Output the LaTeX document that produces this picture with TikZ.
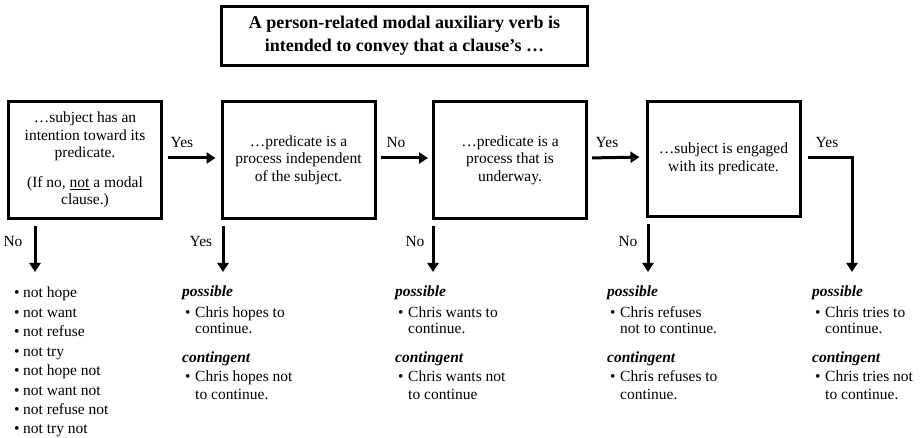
\documentclass[tikz,border=0pt]{standalone}
\usepackage{fontspec}
\setmainfont{Liberation Serif}
\usetikzlibrary{arrows.meta}
\begin{document}
\begin{tikzpicture}[x=1pt,y=-1pt,
  boxnode/.style={draw, line width=3pt, minimum width=153pt, minimum height=117pt, align=center, inner sep=0pt, font=\fontsize{15.5}{17.5}\selectfont},
  arr/.style={line width=3pt, -{Triangle[length=9pt,width=11pt]}},
  lbl/.style={font=\fontsize{15.5}{17.5}\selectfont, inner sep=0pt, anchor=base},
  txt/.style={font=\fontsize{15.5}{17.5}\selectfont, inner sep=0pt, anchor=base west},
  hd/.style={font=\fontsize{15.5}{17.5}\selectfont\bfseries\itshape, inner sep=0pt, anchor=base west}]
\useasboundingbox (0,0) rectangle (921,438);

% title
\node[draw, line width=3pt, minimum width=366pt, minimum height=59pt, align=center, inner sep=0pt,
  font=\fontsize{18}{23}\selectfont\bfseries] (title) at (404.5,36)
  {A person-related modal auxiliary verb is\\intended to convey that a clause’s …};

% boxes
\node[boxnode] (b1) at (85,160) {…subject has an\\intention toward its\\predicate.\\[12pt](If no, \underline{not} a modal\\clause.)};
\node[boxnode] (b2) at (298.5,160) {…predicate is a\\process independent\\of the subject.};
\node[boxnode] (b3) at (510,160) {…predicate is a\\process that is\\underway.};
\node[boxnode, minimum height=115pt] (b4) at (723.5,159) {…subject is engaged\\with its predicate.};

% horizontal arrows
\draw[arr, shorten <=5pt, shorten >=5pt] ([yshift=2pt]b1.east) -- ([yshift=2pt]b2.west);
\draw[arr, shorten <=4pt, shorten >=4pt] ([yshift=2pt]b2.east) -- ([yshift=2pt]b3.west);
\draw[arr, shorten <=4pt, shorten >=6pt] ([yshift=2pt]b3.east) -- ([yshift=2pt]b4.west);
\coordinate (d5) at (852,272);
\draw[arr, shorten <=6pt] ([yshift=1pt]b4.east) -| (d5);

\node[lbl] (y1) at (182,148) {Yes};
\node[lbl] (n2) at (396,148) {No};
\node[lbl] (y3) at (607,148) {Yes};
\node[lbl] (y4) at (827,148) {Yes};

% down arrows
\coordinate (d1) at (35,272);
\coordinate (d2) at (223,272);
\coordinate (d3) at (433,272);
\coordinate (d4) at (648,272);
\draw[arr, shorten <=6pt] (b1.south -| d1) -- (d1);
\draw[arr, shorten <=6pt] (b2.south -| d2) -- (d2);
\draw[arr, shorten <=6pt] (b3.south -| d3) -- (d3);
\draw[arr, shorten <=6pt] (b4.south -| d4) -- (d4);

\node[lbl] (l1) at (13,247) {No};
\node[lbl] (l2) at (201,247) {Yes};
\node[lbl] (l3) at (415,247) {No};
\node[lbl] (l4) at (628,247) {No};

% first column list
\foreach \t [count=\i] in {not hope, not want, not refuse, not try, not hope not, not want not, not refuse not, not try not}
  \node[txt] (nl\i) at (14,{298+19.4*(\i-1)}) {\makebox[9pt][l]{\textbullet}\t};

% other columns
\foreach \x/\a/\b/\c/\d [count=\k] in {182/Chris hopes to/continue./Chris hopes not/to continue.,
    395/Chris wants to/continue./Chris wants not/to continue,
    607/Chris refuses/not to continue./Chris refuses to/continue.,
    812/Chris tries to/continue./Chris tries not/to continue.}
{
  \node[hd]  (p\k)  at (\x,297) {possible};
  \node[txt] (pa\k) at (\x+3,317) {\makebox[10pt][l]{\textbullet}\a};
  \node[txt] (pb\k) at (\x+13,334) {\b};
  \node[hd]  (c\k)  at (\x,362) {contingent};
  \node[txt] (ca\k) at (\x+3,381) {\makebox[10pt][l]{\textbullet}\c};
  \node[txt] (cb\k) at (\x+13,399) {\d};
}
\end{tikzpicture}
\end{document}
